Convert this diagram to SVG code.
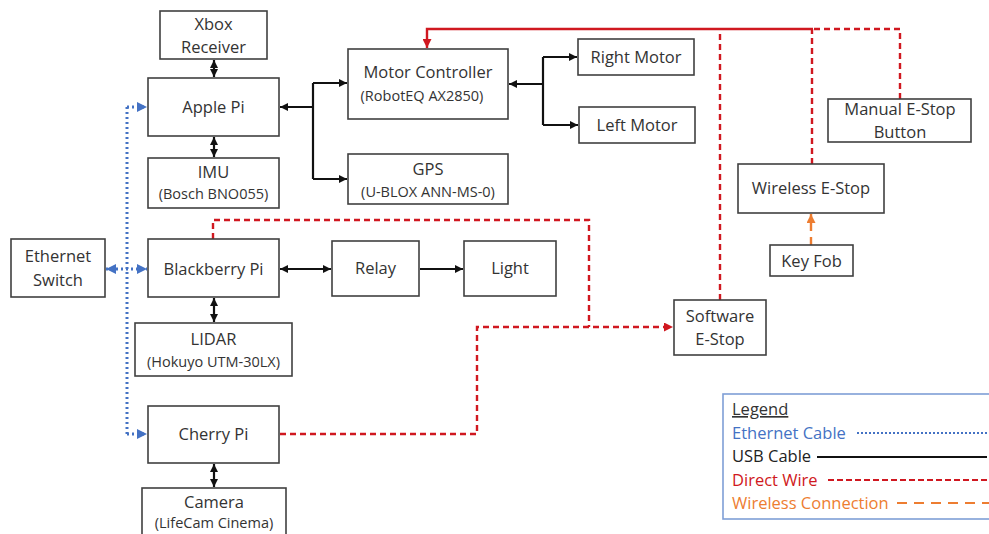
<svg xmlns="http://www.w3.org/2000/svg" width="989" height="534" viewBox="0 0 989 534">
<style>
.box{fill:#fff;stroke:#404040;stroke-width:1.6}
.t{font-family:"Open Sans","Liberation Sans",sans-serif;font-size:16.5px;fill:#333;text-anchor:middle}
.s{font-size:14.5px}
.usb{fill:none;stroke:#111;stroke-width:2.2}
.eth{fill:none;stroke:#4472c4;stroke-width:3;stroke-dasharray:2 3}
.red{fill:none;stroke:#d01820;stroke-width:2.4;stroke-dasharray:6 4}
.reds{fill:none;stroke:#d01820;stroke-width:2.4}
.wl{fill:none;stroke:#ed7d31;stroke-width:2.4;stroke-dasharray:8 6}
.lg{font-family:"Open Sans","Liberation Sans",sans-serif;font-size:16.5px}
</style>
<defs>
<marker id="ak" viewBox="0 0 8 8" refX="8" refY="4" markerWidth="8" markerHeight="8" markerUnits="userSpaceOnUse" orient="auto-start-reverse"><path d="M0,0 L8,4 L0,8 z" fill="#111"/></marker>
<marker id="ar" viewBox="0 0 9 9" refX="9" refY="4.5" markerWidth="9" markerHeight="9" markerUnits="userSpaceOnUse" orient="auto-start-reverse"><path d="M0,0 L9,4.5 L0,9 z" fill="#d01820"/></marker>
<marker id="ab" viewBox="0 0 10 10" refX="10" refY="5" markerWidth="10" markerHeight="10" markerUnits="userSpaceOnUse" orient="auto-start-reverse"><path d="M0,0 L10,5 L0,10 z" fill="#4472c4"/></marker>
<marker id="ao" viewBox="0 0 9 9" refX="9" refY="4.5" markerWidth="9" markerHeight="9" markerUnits="userSpaceOnUse" orient="auto-start-reverse"><path d="M0,0 L9,4.5 L0,9 z" fill="#ed7d31"/></marker>
</defs>

<g id="connectors">
<!-- USB -->
<path class="usb" d="M214,60 L214,77" marker-start="url(#ak)" marker-end="url(#ak)"/>
<path class="usb" d="M214,137 L214,157" marker-start="url(#ak)" marker-end="url(#ak)"/>
<path class="usb" d="M313,107 L280,107" marker-end="url(#ak)"/>
<path class="usb" d="M313,83 L313,179"/>
<path class="usb" d="M313,83 L347,83" marker-end="url(#ak)"/>
<path class="usb" d="M313,179 L347,179" marker-end="url(#ak)"/>
<path class="usb" d="M543,84 L509,84" marker-end="url(#ak)"/>
<path class="usb" d="M543,57 L543,125"/>
<path class="usb" d="M543,57 L577,57" marker-end="url(#ak)"/>
<path class="usb" d="M543,125 L578,125" marker-end="url(#ak)"/>
<path class="usb" d="M280,269 L331,269" marker-start="url(#ak)" marker-end="url(#ak)"/>
<path class="usb" d="M420,269 L463,269" marker-end="url(#ak)"/>
<path class="usb" d="M214,298 L214,322" marker-start="url(#ak)" marker-end="url(#ak)"/>
<path class="usb" d="M214,464 L214,487" marker-start="url(#ak)" marker-end="url(#ak)"/>
<!-- Ethernet -->
<path class="eth" d="M127,107 L127,434"/>
<path class="eth" d="M127,107 L147,107" marker-end="url(#ab)"/>
<path class="eth" d="M127,434 L147,434" marker-end="url(#ab)"/>
<path class="eth" d="M106,269 L147,269" marker-start="url(#ab)" marker-end="url(#ab)"/>
<!-- Direct wire -->
<path class="red" d="M213,239 L213,220 L589,220 L589,327"/>
<path class="red" d="M280,434 L477,434 L477,327 L673,327" marker-end="url(#ar)"/>
<path class="red" d="M720,300 L720,29"/>
<path class="red" d="M812,164 L812,29"/>
<path class="red" d="M900,99 L900,29 L812,29"/>
<path class="reds" d="M813,29 L427,29 L427,48" marker-end="url(#ar)"/>
<!-- Wireless -->
<path class="wl" d="M811,245 L811,214" marker-end="url(#ao)"/>
</g>

<g id="xbox"><rect class="box" x="160" y="11" width="107" height="48"/><text class="t" x="213.5" y="30">Xbox</text><text class="t" x="213.5" y="53">Receiver</text></g>
<g id="apple"><rect class="box" x="148" y="78" width="131" height="58"/><text class="t" x="213.5" y="113">Apple Pi</text></g>
<g id="imu"><rect class="box" x="148" y="158" width="131" height="50"/><text class="t" x="213.5" y="178">IMU</text><text class="t s" x="213.5" y="199">(Bosch BNO055)</text></g>
<g id="motorctl"><rect class="box" x="348" y="49" width="160" height="70"/><text class="t" x="428" y="78">Motor Controller</text><text class="t s" x="422" y="101">(RobotEQ AX2850)</text></g>
<g id="gps"><rect class="box" x="348" y="154" width="160" height="50"/><text class="t" x="428" y="175">GPS</text><text class="t s" x="428" y="197">(U-BLOX ANN-MS-0)</text></g>
<g id="rightmotor"><rect class="box" x="578" y="39" width="116" height="36"/><text class="t" x="636" y="63">Right Motor</text></g>
<g id="leftmotor"><rect class="box" x="579" y="107" width="116" height="36"/><text class="t" x="637" y="131">Left Motor</text></g>
<g id="manual"><rect class="box" x="828" y="99" width="143" height="43"/><text class="t" x="900" y="115">Manual E-Stop</text><text class="t" x="900" y="138">Button</text></g>
<g id="wireless"><rect class="box" x="738" y="164" width="146" height="49"/><text class="t" x="811" y="194">Wireless E-Stop</text></g>
<g id="keyfob"><rect class="box" x="770" y="245" width="83" height="31"/><text class="t" x="811.5" y="267">Key Fob</text></g>
<g id="ethswitch"><rect class="box" x="11" y="239" width="94" height="58"/><text class="t" x="58" y="262">Ethernet</text><text class="t" x="58" y="286">Switch</text></g>
<g id="blackberry"><rect class="box" x="148" y="239" width="131" height="58"/><text class="t" x="213.5" y="275">Blackberry Pi</text></g>
<g id="relay"><rect class="box" x="332" y="241" width="87" height="55"/><text class="t" x="375.5" y="274">Relay</text></g>
<g id="light"><rect class="box" x="464" y="241" width="92" height="55"/><text class="t" x="510" y="274">Light</text></g>
<g id="lidar"><rect class="box" x="135" y="323" width="157" height="53"/><text class="t" x="213.5" y="345">LIDAR</text><text class="t s" x="213.5" y="367">(Hokuyo UTM-30LX)</text></g>
<g id="software"><rect class="box" x="674" y="300" width="92" height="55"/><text class="t" x="720" y="322">Software</text><text class="t" x="720" y="345">E-Stop</text></g>
<g id="cherry"><rect class="box" x="148" y="406" width="131" height="57"/><text class="t" x="213.5" y="440">Cherry Pi</text></g>
<g id="camera"><rect class="box" x="142" y="488" width="144" height="60"/><text class="t" x="214" y="508">Camera</text><text class="t s" x="214" y="528">(LifeCam Cinema)</text></g>

<g id="legend">
<rect x="723" y="394" width="280" height="125" fill="#fff" stroke="#7f9fd6" stroke-width="1.6"/>
<text class="lg" x="732" y="415" fill="#333" text-decoration="underline">Legend</text>
<text class="lg" x="732" y="439" fill="#4472c4">Ethernet Cable</text>
<line x1="857" y1="433" x2="989" y2="433" stroke="#4472c4" stroke-width="2" stroke-dasharray="2 2"/>
<text class="lg" x="732" y="462" fill="#222">USB Cable</text>
<line x1="817" y1="457" x2="987" y2="457" stroke="#111" stroke-width="2"/>
<text class="lg" x="732" y="486" fill="#d01820">Direct Wire</text>
<line x1="828" y1="480" x2="989" y2="480" stroke="#d01820" stroke-width="2.2" stroke-dasharray="6 3"/>
<text class="lg" x="732" y="509" fill="#ed7d31">Wireless Connection</text>
<line x1="897" y1="503" x2="989" y2="503" stroke="#ed7d31" stroke-width="2.2" stroke-dasharray="10 7"/>
</g>
</svg>
